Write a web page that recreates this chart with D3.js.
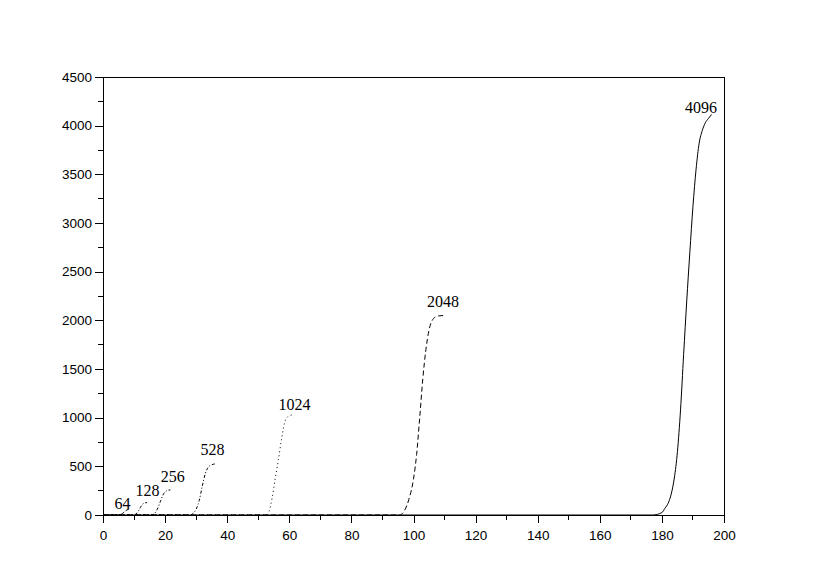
<!DOCTYPE html>
<html>
<head>
<meta charset="utf-8">
<script src="https://cdn.jsdelivr.net/npm/d3@7"></script>
<style>
  html, body { margin: 0; padding: 0; background: #fff; }
  svg { display: block; }
</style>
</head>
<body>
<svg id="chart" width="830" height="588"></svg>
<script>
// ---- data ----
const seriesNames = ["64", "128", "256", "528", "1024", "2048", "4096"];

const x64 = [0, 5, 5.6, 6.3, 7, 7.7, 8.3, 9];
const y64 = [0, 0, 3, 15, 35, 52, 61, 64];

const x128 = [0, 9.8, 10.5, 11.3, 12, 12.7, 13.3, 14.2];
const y128 = [0, 0, 8, 35, 75, 108, 122, 128];

const x256 = [0, 15.8, 16.5, 17.5, 18.5, 19.3, 20, 20.8, 21.7];
const y256 = [0, 0, 12, 60, 140, 205, 238, 252, 258];

const x528 = [0, 28, 29, 30, 31, 32, 33, 34, 35, 36.6];
const y528 = [0, 0, 15, 60, 150, 300, 430, 495, 515, 528];

const x1024 = [0, 52.5, 53.5, 54.5, 55.5, 56.5, 57.5, 58.5, 59.5, 60.5, 61.5];
const y1024 = [0, 0, 40, 180, 380, 570, 780, 950, 1010, 1025, 1030];

const x2048 = [0, 95.5, 97, 98.5, 100, 101, 102, 103, 104, 105, 106.5, 108, 110];
const y2048 = [0, 0, 40, 160, 370, 620, 1000, 1400, 1700, 1900, 2020, 2045, 2050];

const x4096 = [0, 177, 180, 181, 182, 183, 184, 185, 186, 187, 188, 189, 190, 191, 192, 193, 194, 195, 196];
const y4096 = [0, 0, 25, 70, 120, 215, 380, 650, 1080, 1650, 2200, 2700, 3170, 3550, 3820, 3950, 4030, 4075, 4115];

const labelX = [6.3, 14.3, 22.5, 35.3, 61.7, 109.5, 192.6];
const labelY = [123, 257, 401, 678, 1140, 2199, 4192];

const xTicks = [0, 20, 40, 60, 80, 100, 120, 140, 160, 180, 200];
const yTicks = [0, 500, 1000, 1500, 2000, 2500, 3000, 3500, 4000, 4500];
const xMinor = [10, 30, 50, 70, 90, 110, 130, 150, 170, 190];
const yMinor = [250, 750, 1250, 1750, 2250, 2750, 3250, 3750, 4250];

const xs = [x64, x128, x256, x528, x1024, x2048, x4096];
const ys = [y64, y128, y256, y528, y1024, y2048, y4096];
const dashes = ["4,2", "3,2,1,2", "3,2,1,2", "3,2,1,2", "1,3", "5,3", null];

// ---- layout ----
const L = 103, R = 724, T = 77, B = 515;
const svg = d3.select("#chart");
svg.append("rect").attr("width", 830).attr("height", 588).attr("fill", "#fff");

const x = d3.scaleLinear().domain([0, 200]).range([L, R]);
const y = d3.scaleLinear().domain([0, 4500]).range([B, T]);

// frame
svg.append("path")
  .attr("d", `M${L},${T}H${R}V${B}`)
  .attr("fill", "none").attr("stroke", "#000").attr("stroke-width", 1)
  .attr("shape-rendering", "crispEdges");

// axes
const xAxis = d3.axisBottom(x).tickValues(xTicks).tickSize(8).tickPadding(7).tickSizeOuter(0).tickFormat(d3.format("d"));
const gx = svg.append("g").attr("transform", `translate(0,${B})`).call(xAxis);
const yAxis = d3.axisLeft(y).tickValues(yTicks).tickSize(8).tickPadding(3).tickSizeOuter(0).tickFormat(d3.format("d"));
const gy = svg.append("g").attr("transform", `translate(${L},0)`).call(yAxis);
[gx, gy].forEach(g => {
  g.selectAll("text").attr("font-family", "'Liberation Sans', Arial, sans-serif").attr("font-size", 13.5).attr("fill", "#000");
  g.selectAll("line,path").attr("stroke", "#000").attr("shape-rendering", "crispEdges");
});

// minor ticks
svg.append("g").selectAll("line").data(xMinor).join("line")
  .attr("x1", d => x(d)).attr("x2", d => x(d)).attr("y1", B).attr("y2", B + 5)
  .attr("stroke", "#000").attr("shape-rendering", "crispEdges");
svg.append("g").selectAll("line").data(yMinor).join("line")
  .attr("x1", L - 5).attr("x2", L).attr("y1", d => y(d)).attr("y2", d => y(d))
  .attr("stroke", "#000").attr("shape-rendering", "crispEdges");

// curves
const line = d3.line().x(d => x(d[0])).y(d => y(d[1])).curve(d3.curveMonotoneX);
seriesNames.forEach((name, i) => {
  const pts = xs[i].map((v, k) => [v, ys[i][k]]);
  const p = svg.append("path").datum(pts)
    .attr("d", line).attr("fill", "none").attr("stroke", "#000").attr("stroke-width", 1);
  if (dashes[i]) p.attr("stroke-dasharray", dashes[i]);
  svg.append("text")
    .attr("x", x(labelX[i])).attr("y", y(labelY[i])).attr("dy", "0.35em")
    .attr("text-anchor", "middle")
    .attr("font-family", "'Liberation Serif', 'Times New Roman', serif")
    .attr("font-size", 16).attr("fill", "#000")
    .text(name);
});
</script>
</body>
</html>
